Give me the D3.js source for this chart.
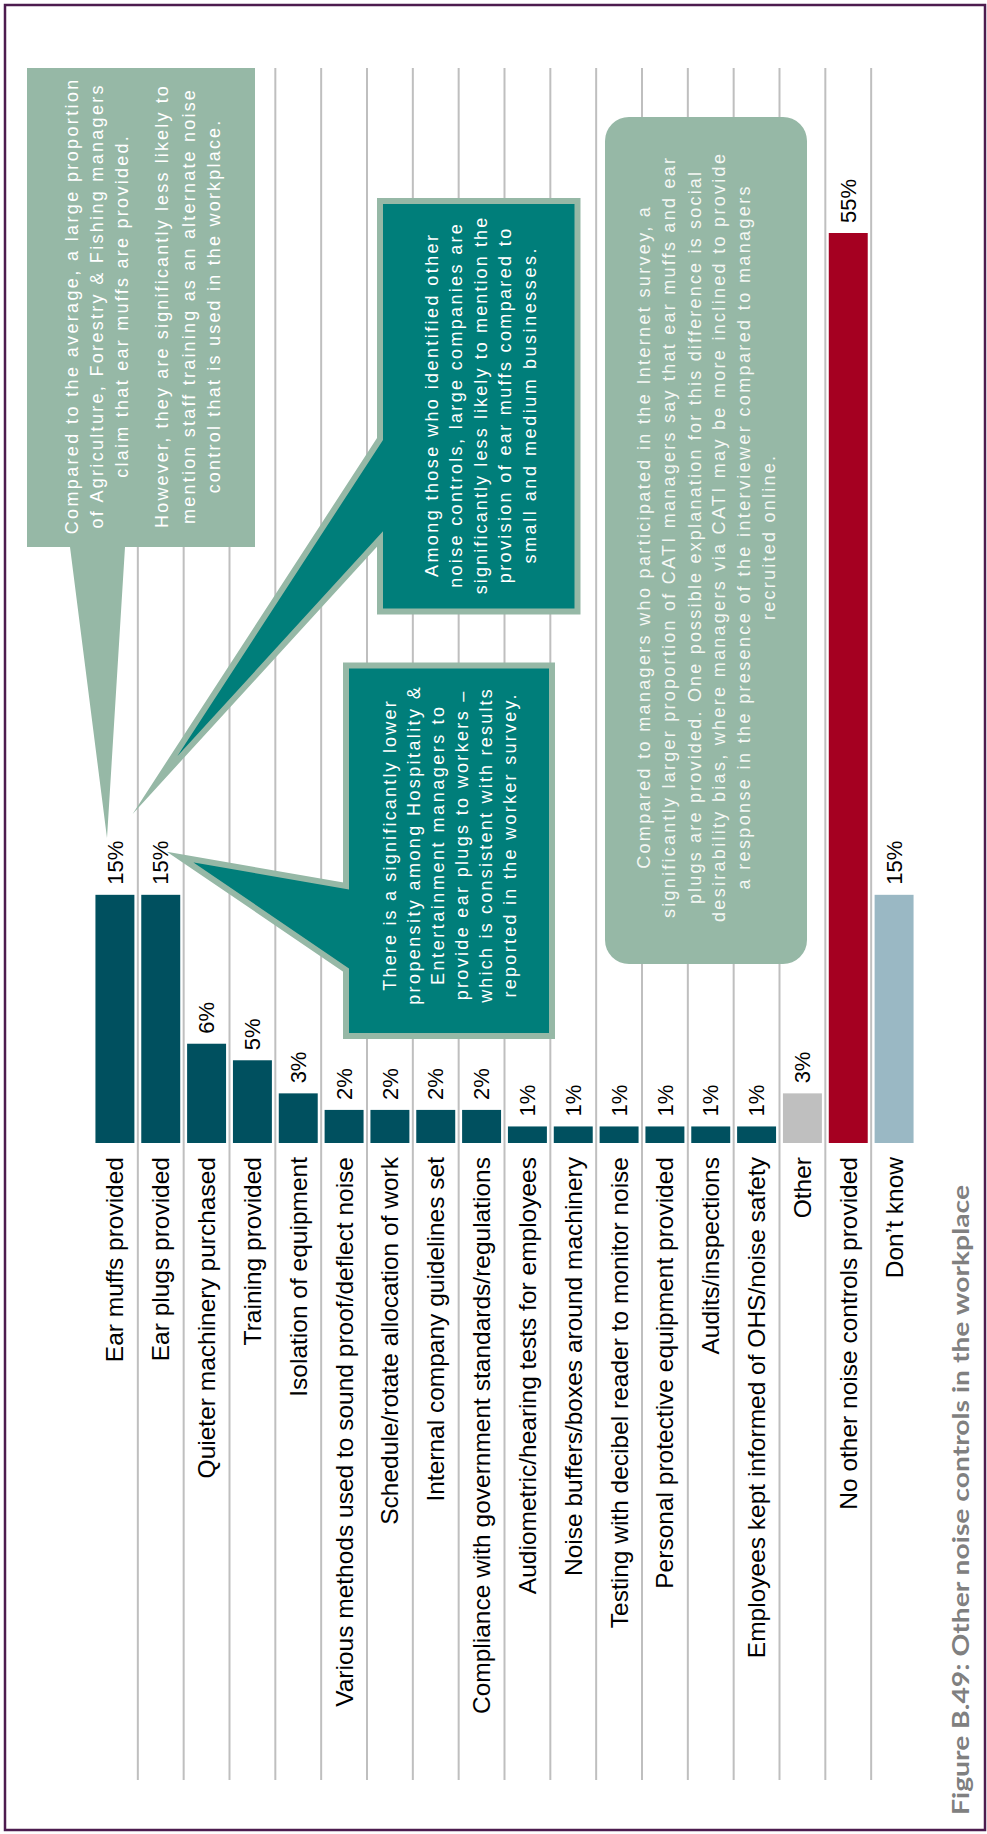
<!DOCTYPE html>
<html>
<head>
<meta charset="utf-8">
<script src="https://cdn.jsdelivr.net/npm/d3@7"></script>
<style>
  html, body { margin: 0; padding: 0; background: #ffffff; }
  svg { display: block; }
</style>
</head>
<body>
<svg id="chart" width="987" height="1834"></svg>
<script>
// ---------- DATA ----------
const categories = [
  "Ear muffs provided",
  "Ear plugs provided",
  "Quieter machinery purchased",
  "Training provided",
  "Isolation of equipment",
  "Various methods used to sound proof/deflect noise",
  "Schedule/rotate allocation of work",
  "Internal company guidelines set",
  "Compliance with government standards/regulations",
  "Audiometric/hearing tests for employees",
  "Noise buffers/boxes around machinery",
  "Testing with decibel reader to monitor noise",
  "Personal protective equipment provided",
  "Audits/inspections",
  "Employees kept informed of OHS/noise safety",
  "Other",
  "No other noise controls provided",
  "Don\u2019t know"
];
const values = [15, 15, 6, 5, 3, 2, 2, 2, 2, 1, 1, 1, 1, 1, 1, 3, 55, 15];
const valueLabels = values.map(v => v + "%");

const titleText = "Figure B.49: Other noise controls in the workplace";

const note1Lines = [
  "Compared to the average, a large proportion",
  "of Agriculture, Forestry & Fishing managers",
  "claim that ear muffs are provided.",
  "",
  "However, they are significantly less likely to",
  "mention staff training as an alternate noise",
  "control that is used in the workplace."
];
const note2Lines = [
  "Among those who identified other",
  "noise controls, large companies are",
  "significantly less likely to mention the",
  "provision of ear muffs compared to",
  "small and medium businesses."
];
const note3Lines = [
  "There is a significantly lower",
  "propensity among Hospitality &",
  "Entertainment managers to",
  "provide ear plugs to workers \u2013",
  "which is consistent with results",
  "reported in the worker survey."
];
const note4Lines = [
  "Compared to managers who participated in the Internet survey,  a",
  "significantly larger proportion of CATI managers say that ear muffs and ear",
  "plugs are provided. One possible explanation for this difference is social",
  "desirability bias, where managers via CATI may be more inclined to provide",
  "a response in the presence of the interviewer compared to managers",
  "recruited online."
];

// ---------- STYLE ----------
const C = {
  bar: "#00505F",
  other: "#BFBFBF",
  none: "#A50021",
  dk: "#9AB8C4",
  grid: "#BFBFBF",
  teal: "#007E7A",
  sage: "#96B8A6",
  border: "#4D1C4F",
  title: "#808080"
};
function barColor(c) {
  if (c === "Other") return C.other;
  if (c === "No other noise controls provided") return C.none;
  if (c === "Don\u2019t know") return C.dk;
  return C.bar;
}

const svg = d3.select("#chart");

// ---------- SCALES ----------
const x = d3.scaleBand().domain(categories).range([92, 917])
  .paddingInner(0.15).paddingOuter(0.075);
const y = d3.scaleLinear().domain([0, 55]).range([1143, 233]);
const gridTop = 68, gridBottom = 1780;

// outer frame
svg.append("rect").attr("x", 5).attr("y", 5).attr("width", 980).attr("height", 1825)
  .attr("fill", "#fff").attr("stroke", C.border).attr("stroke-width", 2.5);

// gridlines between bands
const gap = x.step() * x.paddingInner() / 2;
svg.append("g").selectAll("line").data(categories.slice(1)).join("line")
  .attr("x1", d => x(d) - gap).attr("x2", d => x(d) - gap)
  .attr("y1", gridTop).attr("y2", gridBottom)
  .attr("stroke", C.grid).attr("stroke-width", 2);

// bars
svg.append("g").selectAll("rect").data(categories).join("rect")
  .attr("x", d => x(d))
  .attr("width", x.bandwidth())
  .attr("y", (d, i) => y(values[i]))
  .attr("height", (d, i) => y(0) - y(values[i]))
  .attr("fill", d => barColor(d));

// value labels
svg.append("g").selectAll("text").data(categories).join("text")
  .attr("transform", (d, i) => `translate(${x(d) + x.bandwidth() / 2},${y(values[i]) - 10}) rotate(-90)`)
  .attr("dy", "0.35em")
  .attr("text-anchor", "start")
  .attr("font-family", "'Liberation Sans', Arial, sans-serif")
  .attr("font-size", 22)
  .attr("fill", "#000")
  .text((d, i) => valueLabels[i]);

// category labels
svg.append("g").selectAll("text").data(categories).join("text")
  .attr("transform", d => `translate(${x(d) + x.bandwidth() / 2},${y(0) + 14}) rotate(-90)`)
  .attr("dy", "0.35em")
  .attr("text-anchor", "end")
  .attr("font-family", "'Liberation Sans', Arial, sans-serif")
  .attr("font-size", 24.5)
  .attr("fill", "#000")
  .text(d => d);

// ---------- CALLOUTS ----------
// note 1 (sage, pointer down to ear muffs label)
svg.append("path")
  .attr("d", "M27,68 H255 V547 H125 L107,838 L70,547 H27 Z")
  .attr("fill", C.sage);

// note 2 (teal with sage border)
svg.append("path")
  .attr("d", "M380,201 H577.5 V611.5 H380 V539 L155,785 L380,439 Z")
  .attr("fill", C.teal).attr("stroke", C.sage).attr("stroke-width", 6)
  .attr("stroke-linejoin", "miter").attr("stroke-miterlimit", 30);

// note 3 (teal with sage border)
svg.append("path")
  .attr("d", "M346,665.5 H552 V1036 H346 V970 L180,857 L346,886 Z")
  .attr("fill", C.teal).attr("stroke", C.sage).attr("stroke-width", 6)
  .attr("stroke-linejoin", "miter").attr("stroke-miterlimit", 30);

// note 4 (sage rounded)
svg.append("rect").attr("x", 605).attr("y", 117).attr("width", 202).attr("height", 847)
  .attr("rx", 24).attr("ry", 24).attr("fill", C.sage);

function noteText(lines, cols, cy, color) {
  const g = svg.append("g");
  lines.forEach((t, i) => {
    if (!t) return;
    const el = g.append("text")
      .attr("transform", `translate(${cols[i]},${cy}) rotate(-90)`)
      .attr("dy", "0.35em")
      .attr("text-anchor", "middle")
      .attr("font-family", "'Liberation Sans', Arial, sans-serif")
      .attr("font-size", 18)
      .attr("fill", color)
      .text(t);
    const w = el.node().getComputedTextLength();
    el.attr("textLength", w * 1.28).attr("lengthAdjust", "spacing");
  });
}
noteText(note1Lines, [72, 97, 122, 0, 162, 189, 214], 307, "#ffffff");
noteText(note2Lines, [432, 456, 481, 505, 530], 406, "#ffffff");
noteText(note3Lines, [390, 414, 438, 462, 486, 510], 846, "#ffffff");
noteText(note4Lines, [644, 669, 695, 719, 744, 769], 538, "#F4F7F4");

// ---------- TITLE ----------
svg.append("text")
  .attr("transform", "translate(969,1500) rotate(-90)")
  .attr("text-anchor", "middle")
  .attr("font-family", "Lato, 'Open Sans', sans-serif")
  .attr("font-weight", "bold")
  .attr("font-size", 23)
  .attr("fill", C.title)
  .attr("textLength", 630).attr("lengthAdjust", "spacingAndGlyphs")
  .text(titleText);
</script>
</body>
</html>
